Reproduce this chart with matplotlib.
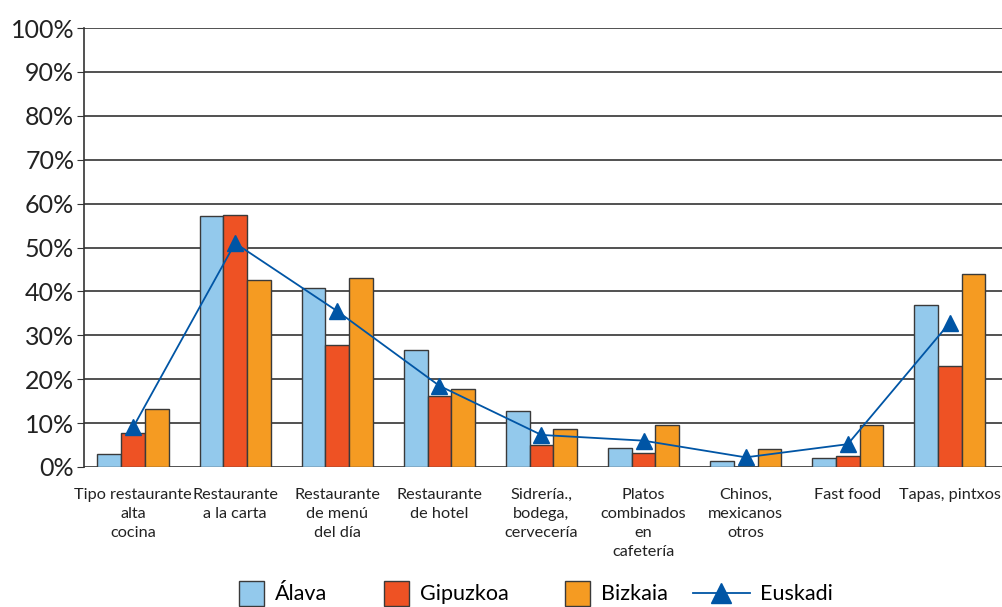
import matplotlib
matplotlib.use("Agg")
import matplotlib.pyplot as plt
from matplotlib.legend_handler import HandlerLine2D, HandlerPatch
from matplotlib.lines import Line2D
from matplotlib.patches import Rectangle
import numpy as np

categories = ["Tipo restaurante\nalta\ncocina", "Restaurante\na la carta", "Restaurante\nde menú\ndel día",
              "Restaurante\nde hotel", "Sidrería.,\nbodega,\ncervecería", "Platos\ncombinados\nen\ncafetería",
              "Chinos,\nmexicanos\notros", "Fast food", "Tapas, pintxos"]
alava = [3.0, 57.2, 40.8, 26.7, 12.8, 4.3, 1.3, 2.0, 37.0]
gipuzkoa = [7.7, 57.4, 27.8, 16.2, 4.9, 3.1, 0.0, 2.4, 23.1]
bizkaia = [13.2, 42.6, 43.0, 17.7, 8.6, 9.5, 4.2, 9.5, 44.0]
euskadi = [9.0, 51.0, 35.5, 18.5, 7.3, 6.0, 2.2, 5.2, 32.9]
yticks = [0, 10, 20, 30, 40, 50, 60, 70, 80, 90, 100]

plt.rcParams['font.family'] = ['Lato', 'DejaVu Sans']
fig = plt.figure(figsize=(10.03, 6.07), dpi=100)
ax = fig.add_axes([84/1003, 1-467/607, 1-84/1003, (467-28)/607])

x = np.arange(len(categories))
w = 0.232
edge = '#3a3a3a'
b1 = ax.bar(x - w, alava, w, color='#93C9EC', edgecolor=edge, linewidth=1, label='Álava', zorder=3)
b2 = ax.bar(x, gipuzkoa, w, color='#EE5224', edgecolor=edge, linewidth=1, label='Gipuzkoa', zorder=3)
b3 = ax.bar(x + w, bizkaia, w, color='#F59B22', edgecolor=edge, linewidth=1, label='Bizkaia', zorder=3)
ln, = ax.plot(x, euskadi, color='#0055A5', marker='^', markersize=12, linewidth=1.3, label='Euskadi', zorder=4)

ax.set_xlim(-0.48, len(categories) - 0.48)
ax.set_ylim(0, 100)
ax.set_yticks(yticks)
ax.set_yticklabels([f"{v}%" for v in yticks], fontsize=18, color='#222222')
ax.yaxis.grid(True, color='#333333', linewidth=1.2, zorder=0)
ax.set_axisbelow(True)
ax.set_xticks(x)
ax.set_xticklabels(categories, fontsize=11.7, color='#222222', linespacing=1.45)
ax.tick_params(axis='x', length=0, pad=15)
ax.tick_params(axis='y', length=5, color='#333333', pad=2)
for s in ['top', 'right', 'bottom']:
    ax.spines[s].set_visible(False)
ax.spines['left'].set_color('#333333')
ax.spines['left'].set_linewidth(1.2)


def square_patch(legend, orig_handle, xdescent, ydescent, width, height, fontsize):
    s = 18
    return Rectangle((-xdescent + width - s, -ydescent + (height - s) / 2), s, s)


class TriLine(HandlerLine2D):
    def create_artists(self, legend, orig_handle, xdescent, ydescent, width, height, fontsize, trans):
        xs = [-xdescent, -xdescent + width]
        y = height / 2 - ydescent
        l = Line2D(xs, [y, y], color=orig_handle.get_color(), linewidth=orig_handle.get_linewidth())
        m = Line2D([(xs[0] + xs[1]) / 2], [y], marker='^', markersize=14, color=orig_handle.get_color(),
                   linestyle='none')
        l.set_transform(trans)
        m.set_transform(trans)
        return [l, m]


hp = HandlerPatch(patch_func=square_patch)
p1, p2, p3 = b1.patches[0], b2.patches[0], b3.patches[0]
ax.legend([p1, p2, p3, ln], ['Álava', 'Gipuzkoa', 'Bizkaia', 'Euskadi'],
          loc='center', bbox_to_anchor=(0.4745, -0.29), ncol=4, frameon=False, fontsize=15.5,
          handlelength=2.65, handleheight=0.9, columnspacing=1.15, handletextpad=0.5,
          borderpad=0, handler_map={p1: hp, p2: hp, p3: hp, ln: TriLine()}, bbox_transform=ax.transAxes)
fig.savefig("out.png", dpi=100)
